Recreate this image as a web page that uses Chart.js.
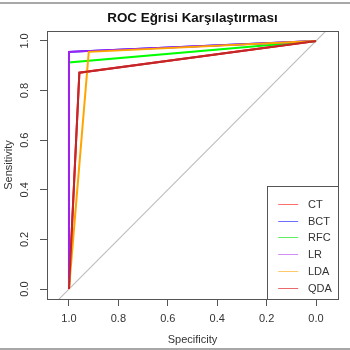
<!DOCTYPE html>
<html>
<head>
<meta charset="utf-8">
<script src="https://cdn.jsdelivr.net/npm/chart.js@4/dist/chart.umd.min.js"></script>
<style>
html,body{margin:0;padding:0;background:#fff;}
#wrap{width:350px;height:350px;position:relative;}
</style>
</head>
<body>
<div id="wrap"><canvas id="c" width="350" height="350"></canvas></div>
<script>
// ---- data ----
const MODELS = ['CT', 'BCT', 'RFC', 'LR', 'LDA', 'QDA'];
const COLORS = ['#FF0000', '#0000FF', '#00FF00', '#A020F0', '#FFA500', '#C0282A'];
const LEGEND_COLORS = ['#FF6F6F', '#6F6FFF', '#5FEF5F', '#CF8FF7', '#FFC86A', '#E86A6A'];
// ROC points: specificity (x) and sensitivity (y), from (1,0) through the cut point to (0,1)
const SPEC_CT  = [1.0, 0.958, 0.0];
const SENS_CT  = [0.0, 0.872, 1.0];
const SPEC_BCT = [1.0, 1.0, 0.0];
const SENS_BCT = [0.0, 0.956, 1.0];
const SPEC_RFC = [1.0, 1.0, 0.0];
const SENS_RFC = [0.0, 0.913, 1.0];
const SPEC_LR  = [1.0, 1.0, 0.0];
const SENS_LR  = [0.0, 0.956, 1.0];
const SPEC_LDA = [1.0, 0.92, 0.0];
const SENS_LDA = [0.0, 0.956, 1.0];
const SPEC_QDA = [1.0, 0.958, 0.0];
const SENS_QDA = [0.0, 0.872, 1.0];
const X_TICKS = [1.0, 0.8, 0.6, 0.4, 0.2, 0.0];
const Y_TICKS = [0.0, 0.2, 0.4, 0.6, 0.8, 1.0];
const X_MIN = -0.089, X_MAX = 1.089;
const Y_MIN = -0.04, Y_MAX = 1.04;
const TITLE = 'ROC Eğrisi Karşılaştırması';
const X_TITLE = 'Specificity';
const Y_TITLE = 'Sensitivity';

const SPECS = [SPEC_CT, SPEC_BCT, SPEC_RFC, SPEC_LR, SPEC_LDA, SPEC_QDA];
const SENSS = [SENS_CT, SENS_BCT, SENS_RFC, SENS_LR, SENS_LDA, SENS_QDA];

const FONT = 'Liberation Sans, Arial, Helvetica, sans-serif';
const AXIS_COL = '#555555';
const TEXT_COL = '#333333';

const datasets = MODELS.map((m, i) => ({
  label: m,
  data: SPECS[i].map((s, k) => ({x: s, y: SENSS[i][k]})),
  borderColor: COLORS[i],
  backgroundColor: COLORS[i],
  borderWidth: 2,
  showLine: true,
  pointRadius: 0,
  tension: 0,
  order: MODELS.length - i + 1
}));
// chance diagonal (sensitivity = 1 - specificity)
datasets.push({
  label: '_diag',
  data: [{x: X_MAX + 0.1, y: 1 - (X_MAX + 0.1)}, {x: X_MIN - 0.1, y: 1 - (X_MIN - 0.1)}],
  borderColor: '#BDBDBD',
  borderWidth: 1.1,
  showLine: true,
  pointRadius: 0,
  order: 100
});

const framePlugin = {
  id: 'frame',
  afterDatasetsDraw(chart) {
    const ctx = chart.ctx, a = chart.chartArea;
    ctx.save();
    ctx.strokeStyle = AXIS_COL;
    ctx.lineWidth = 1;
    ctx.strokeRect(Math.round(a.left) + 0.5, Math.round(a.top) + 0.5,
                   Math.round(a.right - a.left), Math.round(a.bottom - a.top));
    // legend
    const bw = 71, bh = 113;
    const bx = Math.round(a.right) - bw + 0.5, by = Math.round(a.bottom) - bh + 0.5;
    ctx.fillStyle = '#fff';
    ctx.fillRect(bx, by, bw, bh);
    ctx.strokeStyle = AXIS_COL;
    ctx.strokeRect(bx, by, bw, bh);
    ctx.font = '11px ' + FONT;
    ctx.textBaseline = 'middle';
    ctx.textAlign = 'left';
    MODELS.forEach((m, i) => {
      const yy = Math.round(by + 17.3 + i * 16.8) + 0.5;
      ctx.strokeStyle = LEGEND_COLORS[i];
      ctx.lineWidth = 1;
      ctx.beginPath();
      ctx.moveTo(bx + 10.7, yy);
      ctx.lineTo(bx + 30.7, yy);
      ctx.stroke();
      ctx.fillStyle = TEXT_COL;
      ctx.fillText(m, bx + 40.5, yy + 0.5);
    });
    // title centred over the plot region
    ctx.fillStyle = '#111';
    ctx.font = 'bold 13.4px ' + FONT;
    ctx.textAlign = 'center';
    ctx.textBaseline = 'middle';
    ctx.fillText(TITLE, (a.left + a.right) / 2, 18);
    ctx.restore();
  },
  afterDraw(chart) {
    const ctx = chart.ctx;
    ctx.save();
    ctx.strokeStyle = '#A8A8A8';
    ctx.lineWidth = 2;
    ctx.beginPath();
    ctx.moveTo(0, 3); ctx.lineTo(350, 3);
    ctx.moveTo(0, 349); ctx.lineTo(350, 349);
    ctx.stroke();
    ctx.restore();
  }
};

new Chart(document.getElementById('c'), {
  type: 'scatter',
  data: {datasets},
  plugins: [framePlugin],
  options: {
    responsive: false,
    animation: false,
    layout: {padding: {left: 0, right: 12, top: 31, bottom: 0}},
    plugins: {
      legend: {display: false},
      tooltip: {enabled: false},
      title: {display: false}
    },
    scales: {
      x: {
        type: 'linear',
        reverse: true,
        min: X_MIN, max: X_MAX,
        afterBuildTicks: s => { s.ticks = X_TICKS.map(v => ({value: v})); },
        afterFit: s => { s.height = 51; },
        grid: {display: true, drawOnChartArea: false, drawTicks: true, tickLength: 7, tickColor: AXIS_COL, color: AXIS_COL},
        border: {display: false},
        ticks: {
          color: TEXT_COL, font: {family: FONT, size: 11}, padding: 6.5,
          maxRotation: 0, minRotation: 0, autoSkip: false,
          callback: v => Number(v).toFixed(1)
        },
        title: {display: true, text: X_TITLE, color: TEXT_COL, font: {family: FONT, size: 11}, padding: {top: 0, bottom: 3}}
      },
      y: {
        type: 'linear',
        min: Y_MIN, max: Y_MAX,
        afterBuildTicks: s => { s.ticks = Y_TICKS.map(v => ({value: v})); },
        afterFit: s => { s.width = 47; },
        grid: {display: true, drawOnChartArea: false, drawTicks: true, tickLength: 7, tickColor: AXIS_COL, color: AXIS_COL},
        border: {display: false},
        ticks: {
          color: TEXT_COL, font: {family: FONT, size: 11}, padding: 7,
          minRotation: 90, maxRotation: 90, crossAlign: 'center', autoSkip: false,
          callback: v => Number(v).toFixed(1)
        },
        title: {display: true, text: Y_TITLE, color: TEXT_COL, font: {family: FONT, size: 11}, padding: {top: 2, bottom: 0}}
      }
    }
  }
});
</script>
</body>
</html>
